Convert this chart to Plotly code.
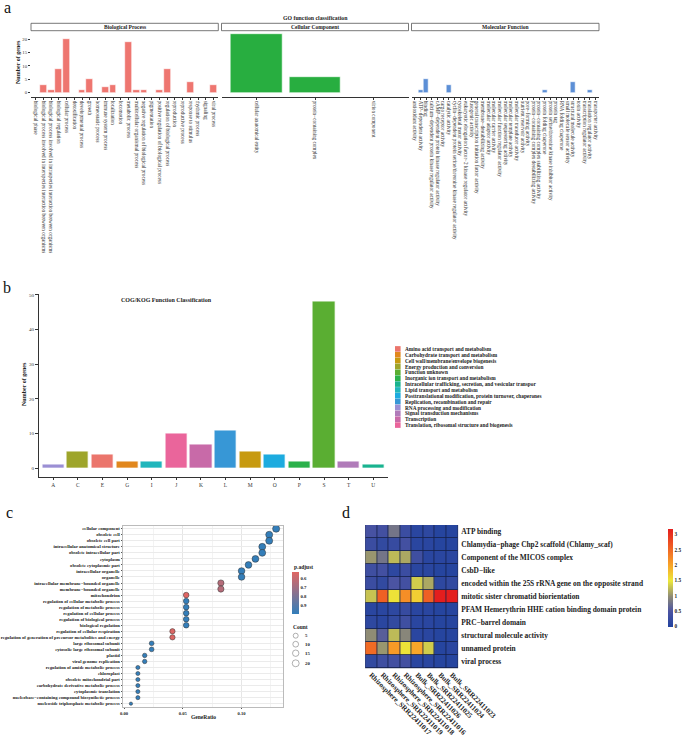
import plotly.graph_objects as go

W, H = 685, 741
FONT = "Liberation Serif"

# ---------------- Panel a: GO classification ----------------
bp_terms = [
    "biological phase",
    "biological process involved in interspecies interaction between organisms",
    "biological process involved in intraspecies interaction between organisms",
    "biological regulation", "cellular process", "detoxification",
    "developmental process", "growth", "homeostatic process",
    "immune system process", "localization", "locomotion", "metabolic process",
    "multicellular organismal process", "negative regulation of biological process",
    "pigmentation", "positive regulation of biological process",
    "regulation of biological process", "reproduction", "reproductive process",
    "response to stimulus", "rhythmic process", "signaling", "viral process",
]
bp_counts = [0, 3, 1, 9, 20, 0, 1, 5, 0, 2, 3, 0, 19, 1, 1, 0, 1, 9, 0, 0, 4, 0, 0, 3]

cc_terms = ["cellular anatomical entity", "protein−containing complex", "virion component"]
cc_counts = [22, 6, 0]

mf_terms = [
    "antioxidant activity", "ATP−dependent activity", "binding",
    "calcium−dependent protein kinase regulator activity",
    "cAMP−dependent protein kinase regulator activity", "cargo receptor activity",
    "catalytic activity",
    "cyclin−dependent protein serine/threonine kinase regulator activity",
    "cytoskeletal motor activity",
    "eukaryotic elongation factor−2 kinase regulator activity",
    "fusogenic activity", "general transcription initiation factor activity",
    "membrane−destabilizing activity", "molecular adaptor activity",
    "molecular carrier activity", "molecular function regulator activity",
    "molecular sequestering activity", "molecular template activity",
    "molecular transducer activity", "nutrient reservoir activity",
    "pore−forming activity", "protein−containing complex destabilizing activity",
    "protein−containing complex stabilizing activity", "protein folding chaperone",
    "protein serine/threonine kinase inhibitor activity", "protein tag",
    "RNA folding chaperone", "small molecule sensor activity",
    "structural molecule activity", "toxin activity",
    "transcription regulator activity", "translation regulator activity",
    "transporter activity",
]
mf_counts = [0, 1, 5, 0, 0, 0, 3, 0, 0, 0, 0, 0, 0, 0, 0, 0, 0, 0, 0, 0, 0,
             0, 0, 1, 0, 0, 0, 0, 4, 0, 0, 1, 0]

go_facets = ["Biological Process", "Cellular Component", "Molecular Function"]
go_yticks = [0, 5, 10, 15, 20]

# ---------------- Panel b: COG/KOG ----------------
cog_codes = ["A", "C", "E", "G", "I", "J", "K", "L", "M", "O", "P", "S", "T", "U"]
cog_counts = [1, 5, 4, 2, 2, 10, 7, 11, 5, 4, 2, 48, 2, 1]
cog_code_class = [
    "RNA processing and modification",
    "Energy production and conversion",
    "Amino acid transport and metabolism",
    "Carbohydrate transport and metabolism",
    "Lipid transport and metabolism",
    "Translation, ribosomal structure and biogenesis",
    "Transcription",
    "Replication, recombination and repair",
    "Cell wall/membrane/envelope biogenesis",
    "Posttranslational modification, protein turnover, chaperones",
    "Inorganic ion transport and metabolism",
    "Function unknown",
    "Signal transduction mechanisms",
    "Intracellular trafficking, secretion, and vesicular transpor",
]
cog_classes = [
    "Amino acid transport and metabolism",
    "Carbohydrate transport and metabolism",
    "Cell wall/membrane/envelope biogenesis",
    "Energy production and conversion",
    "Function unknown",
    "Inorganic ion transport and metabolism",
    "Intracellular trafficking, secretion, and vesicular transpor",
    "Lipid transport and metabolism",
    "Posttranslational modification, protein turnover, chaperones",
    "Replication, recombination and repair",
    "RNA processing and modification",
    "Signal transduction mechanisms",
    "Transcription",
    "Translation, ribosomal structure and biogenesis",
]
cog_class_colors = ["#EB756C", "#E1871D", "#C79A10", "#9EA52B", "#5AAE32", "#2BB14B",
                    "#19B38F", "#20B6BC", "#1DABDF", "#3797D6", "#9B8FD4", "#B07BB9",
                    "#C86AA8", "#EA659B"]
cog_yticks = [0, 10, 20, 30, 40, 50]

# ---------------- Panel c: enrichment dot plot ----------------
c_terms = [
    "cellular component", "obsolete cell", "obsolete cell part",
    "intracellular anatomical structure", "obsolete intracellular part", "cytoplasm",
    "obsolete cytoplasmic part", "intracellular organelle", "organelle",
    "intracellular membrane−bounded organelle", "membrane−bounded organelle",
    "mitochondrion", "regulation of cellular metabolic process",
    "regulation of metabolic process", "regulation of cellular process",
    "regulation of biological process", "biological regulation",
    "regulation of cellular respiration",
    "regulation of generation of precursor metabolites and energy",
    "large ribosomal subunit", "cytosolic large ribosomal subunit", "plastid",
    "viral genome replication", "regulation of amide metabolic process", "chloroplast",
    "obsolete mitochondrial part", "carbohydrate derivative metabolic process",
    "cytoplasmic translation", "nucleobase−containing compound biosynthetic process",
    "nucleoside triphosphate metabolic process",
]
c_count = [22, 21, 21, 20, 20, 19, 18, 17, 17, 14, 14, 9, 9, 9, 9, 9, 9, 7, 7,
           4, 4, 3, 3, 2, 2, 2, 2, 2, 2, 1]
c_ratio = [0.1294, 0.1235, 0.1235, 0.1176, 0.1176, 0.1118, 0.1059, 0.1000, 0.1000,
           0.0824, 0.0824, 0.0529, 0.0529, 0.0529, 0.0529, 0.0529, 0.0529, 0.0412,
           0.0412, 0.0235, 0.0235, 0.0176, 0.0176, 0.0118, 0.0118, 0.0118, 0.0118,
           0.0118, 0.0118, 0.0059]
c_padj = [0.98, 0.98, 0.98, 0.98, 0.98, 0.98, 0.98, 0.98, 0.98, 0.64, 0.64, 0.53,
          0.98, 0.98, 0.98, 0.98, 0.98, 0.54, 0.54, 0.98, 0.98, 0.98, 0.98, 0.98,
          0.98, 0.98, 0.98, 0.98, 0.98, 0.98]
c_xticks = [0.0, 0.05, 0.10]
c_xticklabels = ["0.00", "0.05", "0.10"]
c_padj_ticks = [0.6, 0.7, 0.8, 0.9]
c_count_legend = [5, 10, 15, 20]

# ---------------- Panel d: heatmap ----------------
d_rows = [
    "ATP binding", "Chlamydia−phage Chp2 scaffold (Chlamy_scaf)",
    "Component of the MICOS complex", "CsbD−like",
    "encoded within the 25S rRNA gene on the opposite strand",
    "mitotic sister chromatid biorientation",
    "PFAM Hemerythrin HHE cation binding domain protein", "PRC−barrel domain",
    "structural molecule activity", "unnamed protein", "viral process",
]
d_cols = ["Rhizosphere_SRR22411017", "Rhizosphere_SRR22411019",
          "Rhizosphere_SRR22411018", "Rhizosphere_SRR22411016",
          "Bulk_SRR22411026", "Bulk_SRR22411025", "Bulk_SRR22411024",
          "Bulk_SRR22411023"]
d_values = [
    [0.45, 0.40, 0.80, 0.30, 0.10, 0.15, 0.05, 0.05],
    [0.30, 0.20, 0.25, 0.40, 0.10, 0.10, 0.05, 0.05],
    [1.05, 0.80, 1.25, 1.15, 0.35, 0.10, 0.10, 0.10],
    [0.35, 0.40, 0.15, 0.30, 0.10, 0.10, 0.05, 0.05],
    [0.30, 0.20, 0.50, 0.40, 1.35, 1.15, 0.15, 0.20],
    [1.30, 2.60, 1.55, 2.20, 1.70, 2.60, 3.20, 3.20],
    [0.10, 0.10, 0.15, 0.25, 0.10, 0.10, 0.05, 0.05],
    [0.15, 0.10, 0.20, 0.35, 0.10, 0.10, 0.05, 0.05],
    [1.00, 0.60, 1.25, 0.95, 0.10, 0.10, 0.05, 0.05],
    [2.50, 1.05, 2.10, 1.55, 2.00, 1.35, 0.05, 0.10],
    [0.20, 0.35, 0.40, 0.40, 0.10, 0.10, 0.05, 0.05],
]
d_ticks = [0, 0.5, 1, 1.5, 2, 2.5, 3]
d_ticklabels = ["0", "0.5", "1", "1.5", "2", "2.5", "3"]


# ================= helpers =================
def dx(a, b):
    return [a / W, b / W]


def dy(top, bottom):
    return [1 - bottom / H, 1 - top / H]


def px(x):
    return x / W


def py(y):
    return 1 - y / H


def note(x, y, text, size, bold=True, xanchor="center", yanchor="middle", angle=0,
         color="#222222"):
    f = dict(family=FONT, size=size, color=color)
    if bold:
        f["weight"] = "bold"
    return dict(x=px(x), y=py(y), xref="paper", yref="paper", text=text,
                showarrow=False, xanchor=xanchor, yanchor=yanchor, textangle=angle,
                font=f)


fig = go.Figure()
annotations = []
shapes = []
TXT = "#222222"
AX = "#333333"

# ---------------- Panel a ----------------
go_sets = [(bp_terms, bp_counts, "#EE7670", [31, 218.3]),
           (cc_terms, cc_counts, "#28AE40", [221.5, 408.5]),
           (mf_terms, mf_counts, "#5C8FD6", [411.5, 599])]
a_top, a_bot = 31, 96.7
layout_axes = {}
for i, (terms, counts, col, (x0, x1)) in enumerate(go_sets):
    n = i + 1
    xa = "x" if n == 1 else f"x{n}"
    ya = "y" if n == 1 else f"y{n}"
    fig.add_trace(go.Bar(x=terms, y=counts, width=0.88,
                         marker=dict(color=col, line=dict(color="white", width=0.6)),
                         xaxis=xa, yaxis=ya, showlegend=False, hoverinfo="x+y"))
    layout_axes["xaxis" if n == 1 else f"xaxis{n}"] = dict(
        domain=dx(x0, x1), anchor=ya, type="category", categoryorder="array",
        categoryarray=terms, range=[-0.6, len(terms) - 0.4], tickmode="linear",
        tick0=0, dtick=1, tickangle=90,
        tickfont=dict(family=FONT, size=5.2, color=AX), ticks="outside", ticklen=2,
        tickwidth=0.6, tickcolor=AX, showline=True, linecolor=AX, linewidth=0.8,
        showgrid=False, zeroline=False)
    layout_axes["yaxis" if n == 1 else f"yaxis{n}"] = dict(
        domain=dy(a_top, a_bot), anchor=xa, range=[-1.49, 22.98],
        tickmode="array", tickvals=go_yticks, showticklabels=(n == 1),
        ticks="outside" if n == 1 else "", ticklen=2, tickwidth=0.6, tickcolor=AX,
        tickfont=dict(family=FONT, size=4.8, color=AX),
        showline=False, showgrid=False, zeroline=False)
    # facet strip
    shapes.append(dict(type="rect", xref="paper", yref="paper", x0=px(x0), x1=px(x1),
                       y0=py(30.7), y1=py(23.3), line=dict(color="#555555", width=0.8),
                       fillcolor="white"))
    annotations.append(note((x0 + x1) / 2, 27.2, go_facets[i], 5.5))

annotations.append(note(315, 18.5, "GO function classification", 5.8))
annotations.append(note(18, 62, "Number of genes", 6, angle=-90))

# ---------------- Panel b ----------------
cls_color = dict(zip(cog_classes, cog_class_colors))
fig.add_trace(go.Bar(x=cog_codes, y=cog_counts, width=0.9,
                     marker=dict(color=[cls_color[c] for c in cog_code_class],
                                 line=dict(color="white", width=0.8)),
                     xaxis="x4", yaxis="y4", showlegend=False,
                     customdata=cog_code_class,
                     hovertemplate="%{x}: %{y}<br>%{customdata}<extra></extra>"))
layout_axes["xaxis4"] = dict(domain=dx(38.5, 388), anchor="y4", type="category",
                             categoryorder="array", categoryarray=cog_codes,
                             range=[-0.6, len(cog_codes) - 0.4], tickmode="linear",
                             tick0=0, dtick=1,
                             tickfont=dict(family=FONT, size=5.5, color=AX),
                             ticks="outside", ticklen=2.5, tickwidth=0.6, tickcolor=AX,
                             showline=True, linecolor=AX, linewidth=0.8,
                             showgrid=False, zeroline=False)
layout_axes["yaxis4"] = dict(domain=dy(293.5, 476.7), anchor="x4", range=[-2.4, 50.4],
                             tickmode="array", tickvals=cog_yticks,
                             tickfont=dict(family=FONT, size=5, color=AX),
                             ticks="outside", ticklen=2.5, tickwidth=0.6, tickcolor=AX,
                             showline=True, linecolor=AX, linewidth=0.8,
                             showgrid=False, zeroline=False)
annotations.append(note(166.7, 300, "COG/KOG Function Classification", 6))
annotations.append(note(24, 384, "Number of genes", 6, angle=-90))

# legend for panel b (aux axis, px units horizontally)
leg_idx = list(range(len(cog_classes)))
fig.add_trace(go.Scatter(x=[3.8] * len(cog_classes), y=leg_idx, mode="markers",
                         marker=dict(symbol="square", size=5.6, color=cog_class_colors,
                                     line=dict(width=0)),
                         xaxis="x5", yaxis="y5", showlegend=False, hoverinfo="skip"))
layout_axes["xaxis5"] = dict(domain=dx(394, 560), anchor="y5", range=[0, 166],
                             visible=False, fixedrange=True)
layout_axes["yaxis5"] = dict(domain=dy(346, 428), anchor="x5", range=[13.5, -0.5],
                             visible=False, fixedrange=True)
for i, name in enumerate(cog_classes):
    annotations.append(dict(x=8.7, y=i, xref="x5", yref="y5", text=name,
                            xanchor="left", yanchor="middle", showarrow=False,
                            font=dict(family=FONT, size=5.3, color=TXT, weight="bold")))

# ---------------- Panel c ----------------
def dot_size(c):
    return 3.3 + 3.8 * ((c - 1) / 21) ** 0.5


fig.add_trace(go.Scatter(
    x=c_ratio, y=c_terms, mode="markers", xaxis="x6", yaxis="y6", showlegend=False,
    marker=dict(size=[dot_size(c) for c in c_count],
                color=[-p for p in c_padj],
                colorscale=[[0, "#327eba"], [1, "#e06663"]],
                cmin=-0.984, cmax=-0.527, line=dict(color="#333333", width=0.5),
                opacity=1,
                colorbar=dict(x=px(291.7), xanchor="left", y=py(592.5), yanchor="middle",
                              len=41.6, lenmode="pixels", thickness=7.3,
                              outlinewidth=0, ticks="", tickmode="array",
                              tickvals=[-t for t in c_padj_ticks],
                              ticktext=[str(t) for t in c_padj_ticks],
                              ypad=0, xpad=0,
                              tickfont=dict(family=FONT, size=4.8, color=TXT,
                                            weight="bold"))),
    customdata=list(zip(c_count, c_padj)),
    hovertemplate="%{y}<br>GeneRatio %{x}<br>Count %{customdata[0]}<br>p.adjust %{customdata[1]}<extra></extra>"))
annotations.append(note(291.5, 566.5, "p.adjust", 5.5, xanchor="left"))
layout_axes["xaxis6"] = dict(domain=dx(123.3, 283.3), anchor="y6",
                             range=[-0.0006, 0.1355], tickmode="array",
                             tickvals=c_xticks, ticktext=c_xticklabels,
                             tickfont=dict(family=FONT, size=4.6, color=TXT, weight="bold"),
                             ticks="outside", ticklen=1.5, tickwidth=0.5, tickcolor="#555",
                             showline=True, mirror=True, linecolor="#bbbbbb", linewidth=1,
                             showgrid=True, gridcolor="#e6e6e6", gridwidth=0.6,
                             minor=dict(tick0=0, dtick=0.025, showgrid=True,
                                        gridcolor="#f3f3f3", gridwidth=0.4),
                             zeroline=False)
layout_axes["yaxis6"] = dict(domain=dy(525.7, 706.7), anchor="x6", type="category",
                             categoryorder="array", categoryarray=c_terms,
                             range=[len(c_terms) - 0.5, -0.5], tickmode="linear",
                             tick0=0, dtick=1,
                             tickfont=dict(family=FONT, size=4.6, color=TXT, weight="bold"),
                             ticks="outside", ticklen=1.5, tickwidth=0.5, tickcolor="#555",
                             showline=True, mirror=True, linecolor="#bbbbbb", linewidth=1,
                             showgrid=True, gridcolor="#ebebeb", gridwidth=0.6,
                             zeroline=False)
annotations.append(note(203.3, 716.7, "GeneRatio", 5.5))
# Count size legend (aux axis in pixel units)
leg_y = [635.7, 644.2, 653.2, 663.3]
fig.add_trace(go.Scatter(x=[7.7] * 4, y=leg_y, mode="markers",
                         marker=dict(size=[dot_size(c) for c in c_count_legend],
                                     color="white", line=dict(color="#444444", width=0.6)),
                         xaxis="x7", yaxis="y7", showlegend=False, hoverinfo="skip"))
layout_axes["xaxis7"] = dict(domain=dx(288, 320), anchor="y7", range=[0, 32],
                             visible=False, fixedrange=True)
layout_axes["yaxis7"] = dict(domain=dy(630, 668), anchor="x7", range=[668, 630],
                             visible=False, fixedrange=True)
for yy, c in zip(leg_y, c_count_legend):
    annotations.append(dict(x=14.5, y=yy, xref="x7", yref="y7", text=str(c),
                            xanchor="left", yanchor="middle", showarrow=False,
                            font=dict(family=FONT, size=4.8, color=TXT, weight="bold")))
annotations.append(note(291, 626.5, "Count", 5.5, xanchor="left"))

# ---------------- Panel d ----------------
heat_scale = [[0.0, "#22439f"], [0.16, "#4c54a2"], [0.31, "#8e8b76"],
              [0.47, "#ece83a"], [0.63, "#f8a428"], [0.80, "#f06424"],
              [1.0, "#e41e1e"]]
shapes.append(dict(type="rect", xref="x8", yref="y8", x0=-0.5, x1=len(d_cols) - 0.5,
                   y0=-0.5, y1=len(d_rows) - 0.5, fillcolor="#16214a",
                   line=dict(color="#16214a", width=0.8), layer="below"))
fig.add_trace(go.Heatmap(
    z=d_values, x=d_cols, y=d_rows, xaxis="x8", yaxis="y8", zmin=0, zmax=3.2,
    colorscale=heat_scale, xgap=0.8, ygap=0.8,
    colorbar=dict(x=px(668.3), xanchor="left", y=py(577.5), yanchor="middle",
                  len=98.4, lenmode="pixels", thickness=5, outlinewidth=0, ticks="",
                  ypad=0, xpad=0,
                  tickmode="array", tickvals=d_ticks, ticktext=d_ticklabels,
                  tickfont=dict(family=FONT, size=5.3, color=TXT, weight="bold"))))
layout_axes["xaxis8"] = dict(domain=dx(365, 458.3), anchor="y8", type="category",
                             categoryorder="array", categoryarray=d_cols,
                             tickmode="linear", tick0=0, dtick=1, tickangle=45,
                             tickfont=dict(family=FONT, size=7.2, color=TXT, weight="bold"),
                             ticks="", showline=False, showgrid=False, zeroline=False)
layout_axes["yaxis8"] = dict(domain=dy(525, 668.3), anchor="x8", type="category",
                             categoryorder="array", categoryarray=d_rows,
                             range=[len(d_rows) - 0.5, -0.5], side="right",
                             tickmode="linear", tick0=0, dtick=1,
                             tickfont=dict(family=FONT, size=7.4, color=TXT, weight="bold"),
                             ticks="", ticklabelstandoff=2, showline=False,
                             showgrid=False, zeroline=False)

# no automatic margin pushing: keep every panel exactly where it is placed
for ax in layout_axes.values():
    ax["automargin"] = False

# ---------------- Panel letters ----------------
for letter, (lx, ly) in zip(["a", "b", "c", "d"],
                            [(8, 8), (7, 287), (9, 512), (346, 512)]):
    annotations.append(note(lx, ly, letter, 16, bold=False, color="#111111"))

fig.update_layout(width=W, height=H, margin=dict(l=0, r=0, t=0, b=0, autoexpand=False),
                  autosize=False, plot_bgcolor="white", paper_bgcolor="white",
                  showlegend=False, font=dict(family=FONT),
                  annotations=annotations, shapes=shapes, bargap=0, **layout_axes)

fig.write_html("out.html", config={"displayModeBar": False},
               post_script="document.body.style.margin='0';"
                           "document.body.style.overflow='hidden';")
